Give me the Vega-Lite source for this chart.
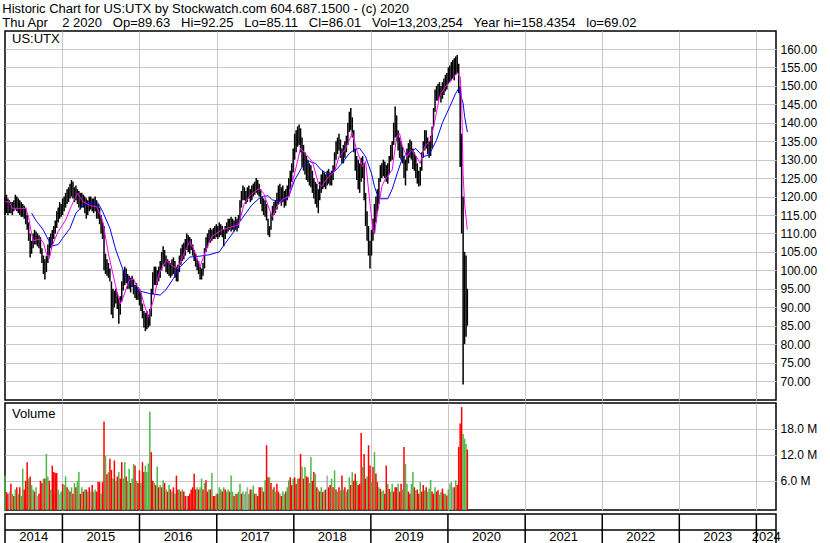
{
"$schema":"https://vega.github.io/schema/vega-lite/v6.json",
"padding":{"left":2,"top":3,"right":4,"bottom":0},
"background":"white",
"title":{"text":["Historic Chart for US:UTX by Stockwatch.com 604.687.1500 - (c) 2020","Thu Apr\u00a0\u00a0\u00a0\u00a02 2020\u00a0\u00a0\u00a0Op=89.63\u00a0\u00a0\u00a0Hi=92.25\u00a0\u00a0\u00a0Lo=85.11\u00a0\u00a0\u00a0Cl=86.01\u00a0\u00a0\u00a0Vol=13,203,254\u00a0\u00a0\u00a0Year hi=158.4354\u00a0\u00a0\u00a0lo=69.02"],"anchor":"start","font":"Liberation Sans","fontSize":13,"fontWeight":"normal","color":"#000000","lineHeight":14,"offset":0},
"config":{"view":{"stroke":"#000000","strokeWidth":1.5},"font":"Liberation Sans","axis":{"labelFont":"Liberation Sans","labelFontSize":12,"labelColor":"#000000","gridColor":"#c8c8c8","gridWidth":1,"domain":false,"ticks":false,"tickSize":0,"title":null,"labelOverlap":false,"labelBound":false}},
"datasets":{
"w":[
{"d":"2014-04-04","h":120,"l":115,"v":7.2,"c":"g"},
{"d":"2014-04-11","h":120.5,"l":115.5,"v":3.4,"c":"r"},
{"d":"2014-04-18","h":119.5,"l":115,"v":3.0,"c":"r"},
{"d":"2014-04-25","h":119,"l":115.5,"v":3.5,"c":"n"},
{"d":"2014-05-02","h":118.5,"l":115.5,"v":5.3,"c":"r"},
{"d":"2014-05-09","h":118.5,"l":115,"v":3.0,"c":"g"},
{"d":"2014-05-16","h":119,"l":116,"v":2.5,"c":"r"},
{"d":"2014-05-23","h":120.5,"l":116.5,"v":4.0,"c":"g"},
{"d":"2014-05-30","h":120,"l":116,"v":4.5,"c":"r"},
{"d":"2014-06-06","h":119.5,"l":115.5,"v":3.0,"c":"g"},
{"d":"2014-06-13","h":119,"l":115,"v":4.5,"c":"r"},
{"d":"2014-06-20","h":118.5,"l":114.5,"v":2.5,"c":"g"},
{"d":"2014-06-27","h":118,"l":114.5,"v":8.8,"c":"g"},
{"d":"2014-07-04","h":117.5,"l":114,"v":4.0,"c":"r"},
{"d":"2014-07-11","h":117,"l":112.5,"v":6.0,"c":"r"},
{"d":"2014-07-18","h":115,"l":111,"v":10.3,"c":"r"},
{"d":"2014-07-25","h":113,"l":108,"v":6.5,"c":"g"},
{"d":"2014-08-01","h":110,"l":103.5,"v":7.0,"c":"r"},
{"d":"2014-08-08","h":108,"l":104.5,"v":5.0,"c":"g"},
{"d":"2014-08-15","h":110,"l":106,"v":4.0,"c":"g"},
{"d":"2014-08-22","h":111,"l":107,"v":3.5,"c":"r"},
{"d":"2014-08-29","h":110.5,"l":107,"v":4.5,"c":"g"},
{"d":"2014-09-05","h":110,"l":106.5,"v":2.5,"c":"n"},
{"d":"2014-09-12","h":109.5,"l":106,"v":3.0,"c":"r"},
{"d":"2014-09-19","h":109,"l":104.5,"v":6.0,"c":"r"},
{"d":"2014-09-26","h":106,"l":102,"v":5.5,"c":"r"},
{"d":"2014-10-03","h":104,"l":99,"v":6.5,"c":"g"},
{"d":"2014-10-10","h":103,"l":97.5,"v":6.5,"c":"r"},
{"d":"2014-10-17","h":104,"l":99.5,"v":12.2,"c":"g"},
{"d":"2014-10-24","h":107,"l":102,"v":7.0,"c":"g"},
{"d":"2014-10-31","h":109,"l":104,"v":6.0,"c":"r"},
{"d":"2014-11-07","h":110,"l":106,"v":4.0,"c":"g"},
{"d":"2014-11-14","h":111,"l":107,"v":9.5,"c":"r"},
{"d":"2014-11-21","h":112,"l":108.5,"v":8.0,"c":"r"},
{"d":"2014-11-28","h":113.5,"l":110,"v":7.8,"c":"r"},
{"d":"2014-12-05","h":116,"l":111.5,"v":7.8,"c":"r"},
{"d":"2014-12-12","h":117,"l":113,"v":4.0,"c":"g"},
{"d":"2014-12-19","h":118.5,"l":114,"v":3.0,"c":"n"},
{"d":"2014-12-26","h":118,"l":114.5,"v":3.5,"c":"g"},
{"d":"2015-01-02","h":119.5,"l":115,"v":5.3,"c":"r"},
{"d":"2015-01-09","h":120,"l":116,"v":5.0,"c":"g"},
{"d":"2015-01-16","h":121,"l":117,"v":7.0,"c":"g"},
{"d":"2015-01-23","h":122,"l":118,"v":4.5,"c":"r"},
{"d":"2015-01-30","h":122.5,"l":118.5,"v":4.0,"c":"g"},
{"d":"2015-02-06","h":123.5,"l":119.5,"v":3.5,"c":"r"},
{"d":"2015-02-13","h":124.5,"l":120,"v":4.5,"c":"g"},
{"d":"2015-02-20","h":124,"l":119.5,"v":3.0,"c":"r"},
{"d":"2015-02-27","h":122.5,"l":118.5,"v":5.5,"c":"g"},
{"d":"2015-03-06","h":123,"l":119,"v":4.5,"c":"r"},
{"d":"2015-03-13","h":122,"l":118,"v":6.0,"c":"g"},
{"d":"2015-03-20","h":121.5,"l":117,"v":8.0,"c":"g"},
{"d":"2015-03-27","h":121,"l":116.5,"v":3.0,"c":"r"},
{"d":"2015-04-03","h":121,"l":117,"v":4.5,"c":"g"},
{"d":"2015-04-10","h":120.5,"l":117,"v":3.5,"c":"r"},
{"d":"2015-04-17","h":120,"l":115.5,"v":4.0,"c":"g"},
{"d":"2015-04-24","h":119.5,"l":114,"v":4.0,"c":"r"},
{"d":"2015-05-01","h":119,"l":115,"v":3.5,"c":"g"},
{"d":"2015-05-08","h":120,"l":116,"v":4.5,"c":"r"},
{"d":"2015-05-15","h":120,"l":116.5,"v":3.5,"c":"n"},
{"d":"2015-05-22","h":119.5,"l":116,"v":5.0,"c":"r"},
{"d":"2015-05-29","h":119.5,"l":115.5,"v":3.5,"c":"g"},
{"d":"2015-06-05","h":120,"l":116,"v":4.0,"c":"g"},
{"d":"2015-06-12","h":119,"l":114,"v":3.5,"c":"r"},
{"d":"2015-06-19","h":118,"l":114,"v":5.8,"c":"r"},
{"d":"2015-06-26","h":117,"l":112.5,"v":5.7,"c":"r"},
{"d":"2015-07-03","h":115,"l":110,"v":3.0,"c":"g"},
{"d":"2015-07-10","h":113,"l":108.5,"v":5.7,"c":"r"},
{"d":"2015-07-17","h":112,"l":100,"v":19.7,"c":"r"},
{"d":"2015-07-24","h":104.5,"l":99,"v":11.8,"c":"g"},
{"d":"2015-07-31","h":103,"l":98.5,"v":7.5,"c":"r"},
{"d":"2015-08-07","h":102,"l":98,"v":8.0,"c":"g"},
{"d":"2015-08-14","h":100.5,"l":97,"v":11.1,"c":"r"},
{"d":"2015-08-21","h":97,"l":88,"v":8.5,"c":"r"},
{"d":"2015-08-28","h":95,"l":87,"v":6.5,"c":"g"},
{"d":"2015-09-04","h":94.5,"l":90,"v":10.7,"c":"r"},
{"d":"2015-09-11","h":95,"l":91,"v":6.0,"c":"g"},
{"d":"2015-09-18","h":94,"l":89.5,"v":7.0,"c":"r"},
{"d":"2015-09-25","h":92.5,"l":85.5,"v":8.0,"c":"g"},
{"d":"2015-10-02","h":93,"l":88,"v":6.5,"c":"r"},
{"d":"2015-10-09","h":97,"l":91.5,"v":10.3,"c":"r"},
{"d":"2015-10-16","h":100,"l":94.5,"v":6.5,"c":"g"},
{"d":"2015-10-23","h":101,"l":96,"v":10.3,"c":"g"},
{"d":"2015-10-30","h":100.5,"l":96.5,"v":7.0,"c":"r"},
{"d":"2015-11-06","h":99,"l":95,"v":6.0,"c":"g"},
{"d":"2015-11-13","h":98.5,"l":95,"v":8.8,"c":"g"},
{"d":"2015-11-20","h":98,"l":94,"v":5.5,"c":"r"},
{"d":"2015-11-27","h":98.5,"l":95.5,"v":6.5,"c":"g"},
{"d":"2015-12-04","h":97.5,"l":93.5,"v":9.9,"c":"g"},
{"d":"2015-12-11","h":96,"l":92.5,"v":9.5,"c":"r"},
{"d":"2015-12-18","h":96.5,"l":92,"v":6.0,"c":"g"},
{"d":"2015-12-25","h":95.5,"l":92,"v":5.5,"c":"r"},
{"d":"2016-01-01","h":95,"l":90.5,"v":8.4,"c":"r"},
{"d":"2016-01-08","h":94,"l":89,"v":5.5,"c":"g"},
{"d":"2016-01-15","h":91,"l":87,"v":10.3,"c":"r"},
{"d":"2016-01-22","h":89,"l":84.5,"v":8.0,"c":"r"},
{"d":"2016-01-29","h":88.5,"l":83.5,"v":9.5,"c":"g"},
{"d":"2016-02-05","h":89,"l":84,"v":8.0,"c":"g"},
{"d":"2016-02-12","h":88,"l":84.5,"v":10.0,"c":"g"},
{"d":"2016-02-19","h":89.5,"l":85,"v":22.0,"c":"g"},
{"d":"2016-02-26","h":95,"l":87.5,"v":12.6,"c":"r"},
{"d":"2016-03-04","h":99.5,"l":93.5,"v":6.0,"c":"r"},
{"d":"2016-03-11","h":101,"l":96,"v":5.5,"c":"g"},
{"d":"2016-03-18","h":101,"l":96,"v":5.0,"c":"r"},
{"d":"2016-03-25","h":100,"l":96,"v":9.3,"c":"g"},
{"d":"2016-04-01","h":101,"l":97,"v":4.5,"c":"r"},
{"d":"2016-04-08","h":102.5,"l":98,"v":5.0,"c":"g"},
{"d":"2016-04-15","h":105,"l":100,"v":4.5,"c":"r"},
{"d":"2016-04-22","h":106.5,"l":101.5,"v":6.1,"c":"g"},
{"d":"2016-04-29","h":105.5,"l":101,"v":5.5,"c":"r"},
{"d":"2016-05-06","h":104,"l":99.5,"v":4.0,"c":"g"},
{"d":"2016-05-13","h":103,"l":99,"v":3.5,"c":"r"},
{"d":"2016-05-20","h":102.5,"l":98.5,"v":5.0,"c":"g"},
{"d":"2016-05-27","h":102,"l":98,"v":4.0,"c":"r"},
{"d":"2016-06-03","h":103,"l":98.5,"v":3.5,"c":"g"},
{"d":"2016-06-10","h":103.5,"l":99,"v":4.5,"c":"r"},
{"d":"2016-06-17","h":102.5,"l":98,"v":3.0,"c":"g"},
{"d":"2016-06-24","h":101,"l":97,"v":7.2,"c":"r"},
{"d":"2016-07-01","h":101.5,"l":97,"v":4.0,"c":"r"},
{"d":"2016-07-08","h":104,"l":99.5,"v":4.0,"c":"g"},
{"d":"2016-07-15","h":106,"l":101.5,"v":3.5,"c":"r"},
{"d":"2016-07-22","h":107,"l":102.5,"v":4.0,"c":"g"},
{"d":"2016-07-29","h":107.5,"l":103,"v":3.5,"c":"r"},
{"d":"2016-08-05","h":108.5,"l":104,"v":2.5,"c":"r"},
{"d":"2016-08-12","h":110,"l":105.5,"v":2.5,"c":"n"},
{"d":"2016-08-19","h":109.5,"l":105,"v":2.5,"c":"r"},
{"d":"2016-08-26","h":109,"l":104.5,"v":3.0,"c":"r"},
{"d":"2016-09-02","h":108.5,"l":105.5,"v":4.0,"c":"r"},
{"d":"2016-09-09","h":107,"l":104,"v":4.5,"c":"r"},
{"d":"2016-09-16","h":105.5,"l":102.5,"v":7.6,"c":"r"},
{"d":"2016-09-23","h":104.5,"l":101,"v":4.0,"c":"r"},
{"d":"2016-09-30","h":103,"l":100,"v":4.5,"c":"g"},
{"d":"2016-10-07","h":102.5,"l":99,"v":4.0,"c":"r"},
{"d":"2016-10-14","h":101,"l":97.5,"v":4.5,"c":"g"},
{"d":"2016-10-21","h":100.5,"l":97.5,"v":6.5,"c":"g"},
{"d":"2016-10-28","h":102,"l":98.5,"v":4.0,"c":"r"},
{"d":"2016-11-04","h":106,"l":100.5,"v":5.5,"c":"g"},
{"d":"2016-11-11","h":109,"l":105,"v":6.1,"c":"r"},
{"d":"2016-11-18","h":110,"l":106,"v":3.5,"c":"r"},
{"d":"2016-11-25","h":111,"l":107.5,"v":4.0,"c":"g"},
{"d":"2016-12-02","h":111.5,"l":107.5,"v":4.0,"c":"r"},
{"d":"2016-12-09","h":111,"l":108,"v":7.8,"c":"g"},
{"d":"2016-12-16","h":111.5,"l":108.5,"v":2.5,"c":"r"},
{"d":"2016-12-23","h":112,"l":108.5,"v":2.5,"c":"r"},
{"d":"2016-12-30","h":112.5,"l":109,"v":3.0,"c":"g"},
{"d":"2017-01-06","h":112,"l":108.5,"v":3.0,"c":"r"},
{"d":"2017-01-13","h":113,"l":109,"v":4.5,"c":"g"},
{"d":"2017-01-20","h":112.5,"l":109.5,"v":4.0,"c":"g"},
{"d":"2017-01-27","h":112,"l":109,"v":3.5,"c":"r"},
{"d":"2017-02-03","h":111,"l":106.5,"v":4.5,"c":"g"},
{"d":"2017-02-10","h":112,"l":108.5,"v":4.0,"c":"r"},
{"d":"2017-02-17","h":113,"l":110,"v":3.5,"c":"g"},
{"d":"2017-02-24","h":114,"l":110.5,"v":4.0,"c":"g"},
{"d":"2017-03-03","h":114,"l":111,"v":3.5,"c":"r"},
{"d":"2017-03-10","h":114.5,"l":110.5,"v":7.2,"c":"g"},
{"d":"2017-03-17","h":114,"l":111,"v":3.5,"c":"g"},
{"d":"2017-03-24","h":113.5,"l":110.5,"v":2.5,"c":"r"},
{"d":"2017-03-31","h":114.5,"l":111,"v":3.0,"c":"g"},
{"d":"2017-04-07","h":114,"l":110.5,"v":3.0,"c":"r"},
{"d":"2017-04-14","h":115,"l":111.5,"v":3.5,"c":"g"},
{"d":"2017-04-21","h":119,"l":113.5,"v":5.3,"c":"g"},
{"d":"2017-04-28","h":121.5,"l":117,"v":3.0,"c":"r"},
{"d":"2017-05-05","h":123,"l":119,"v":3.5,"c":"g"},
{"d":"2017-05-12","h":122.5,"l":119,"v":3.0,"c":"n"},
{"d":"2017-05-19","h":121.5,"l":118,"v":3.5,"c":"g"},
{"d":"2017-05-26","h":122.5,"l":118.5,"v":4.5,"c":"n"},
{"d":"2017-06-02","h":123,"l":119.5,"v":3.0,"c":"g"},
{"d":"2017-06-09","h":122,"l":118.5,"v":4.0,"c":"r"},
{"d":"2017-06-16","h":123,"l":119,"v":4.0,"c":"g"},
{"d":"2017-06-23","h":123.5,"l":120,"v":4.9,"c":"g"},
{"d":"2017-06-30","h":124,"l":120.5,"v":3.0,"c":"r"},
{"d":"2017-07-07","h":125,"l":121,"v":3.0,"c":"g"},
{"d":"2017-07-14","h":124.5,"l":120.5,"v":2.5,"c":"r"},
{"d":"2017-07-21","h":123.5,"l":120,"v":4.5,"c":"r"},
{"d":"2017-07-28","h":122,"l":118,"v":4.5,"c":"r"},
{"d":"2017-08-04","h":120,"l":116,"v":4.5,"c":"g"},
{"d":"2017-08-11","h":119.5,"l":115,"v":3.5,"c":"r"},
{"d":"2017-08-18","h":119,"l":114.5,"v":6.1,"c":"g"},
{"d":"2017-08-25","h":118,"l":113.5,"v":14.2,"c":"r"},
{"d":"2017-09-01","h":114,"l":109.5,"v":6.8,"c":"r"},
{"d":"2017-09-08","h":112,"l":109,"v":6.8,"c":"g"},
{"d":"2017-09-15","h":115.5,"l":111,"v":5.5,"c":"r"},
{"d":"2017-09-22","h":117.5,"l":113.5,"v":4.0,"c":"g"},
{"d":"2017-09-29","h":118.5,"l":115,"v":4.5,"c":"r"},
{"d":"2017-10-06","h":119,"l":115.5,"v":3.5,"c":"g"},
{"d":"2017-10-13","h":121,"l":116.5,"v":5.3,"c":"r"},
{"d":"2017-10-20","h":123,"l":118,"v":3.5,"c":"r"},
{"d":"2017-10-27","h":123.5,"l":118.5,"v":3.0,"c":"g"},
{"d":"2017-11-03","h":122.5,"l":117.5,"v":2.5,"c":"r"},
{"d":"2017-11-10","h":123,"l":118.5,"v":3.5,"c":"g"},
{"d":"2017-11-17","h":121.5,"l":117,"v":3.0,"c":"g"},
{"d":"2017-11-24","h":122,"l":117.5,"v":3.5,"c":"r"},
{"d":"2017-12-01","h":123,"l":119,"v":4.5,"c":"g"},
{"d":"2017-12-08","h":125,"l":120,"v":6.1,"c":"g"},
{"d":"2017-12-15","h":127,"l":122,"v":6.8,"c":"r"},
{"d":"2017-12-22","h":129,"l":124,"v":5.0,"c":"r"},
{"d":"2017-12-29","h":133,"l":126.5,"v":6.5,"c":"g"},
{"d":"2018-01-05","h":137,"l":130,"v":6.8,"c":"r"},
{"d":"2018-01-12","h":138,"l":132,"v":5.3,"c":"r"},
{"d":"2018-01-19","h":139,"l":133.5,"v":6.5,"c":"g"},
{"d":"2018-01-26","h":139.5,"l":134,"v":6.5,"c":"r"},
{"d":"2018-02-02","h":138.5,"l":132,"v":12.2,"c":"r"},
{"d":"2018-02-09","h":136,"l":128,"v":9.3,"c":"g"},
{"d":"2018-02-16","h":134,"l":127,"v":6.5,"c":"r"},
{"d":"2018-02-23","h":132,"l":126,"v":9.2,"c":"g"},
{"d":"2018-03-02","h":131,"l":124.5,"v":7.0,"c":"r"},
{"d":"2018-03-09","h":130,"l":124,"v":6.8,"c":"r"},
{"d":"2018-03-16","h":129,"l":123,"v":5.5,"c":"g"},
{"d":"2018-03-23","h":128.5,"l":122.5,"v":11.5,"c":"g"},
{"d":"2018-03-30","h":127,"l":121,"v":6.0,"c":"r"},
{"d":"2018-04-06","h":125,"l":119.5,"v":8.0,"c":"r"},
{"d":"2018-04-13","h":124,"l":118,"v":7.6,"c":"g"},
{"d":"2018-04-20","h":123.5,"l":117,"v":4.5,"c":"r"},
{"d":"2018-04-27","h":122,"l":115.5,"v":4.0,"c":"g"},
{"d":"2018-05-04","h":124,"l":119,"v":3.5,"c":"r"},
{"d":"2018-05-11","h":126,"l":121,"v":4.5,"c":"g"},
{"d":"2018-05-18","h":127,"l":122,"v":3.4,"c":"r"},
{"d":"2018-05-25","h":126.5,"l":122.5,"v":3.8,"c":"g"},
{"d":"2018-06-01","h":126,"l":122,"v":4.0,"c":"r"},
{"d":"2018-06-08","h":127,"l":123,"v":7.2,"c":"n"},
{"d":"2018-06-15","h":127.5,"l":123.5,"v":4.5,"c":"r"},
{"d":"2018-06-22","h":126.5,"l":123,"v":5.0,"c":"r"},
{"d":"2018-06-29","h":127,"l":123,"v":6.5,"c":"g"},
{"d":"2018-07-06","h":128.5,"l":124.5,"v":4.5,"c":"r"},
{"d":"2018-07-13","h":132,"l":127,"v":8.4,"c":"g"},
{"d":"2018-07-20","h":135,"l":130,"v":4.0,"c":"r"},
{"d":"2018-07-27","h":136,"l":131.5,"v":3.5,"c":"g"},
{"d":"2018-08-03","h":137,"l":132.5,"v":4.5,"c":"r"},
{"d":"2018-08-10","h":135.5,"l":130.5,"v":3.8,"c":"g"},
{"d":"2018-08-17","h":133,"l":129,"v":7.2,"c":"r"},
{"d":"2018-08-24","h":134,"l":129,"v":4.0,"c":"g"},
{"d":"2018-08-31","h":135,"l":130.5,"v":4.5,"c":"r"},
{"d":"2018-09-07","h":136.5,"l":132,"v":3.5,"c":"g"},
{"d":"2018-09-14","h":140,"l":134,"v":4.0,"c":"r"},
{"d":"2018-09-21","h":143,"l":137.5,"v":6.8,"c":"g"},
{"d":"2018-09-28","h":144,"l":138,"v":5.0,"c":"r"},
{"d":"2018-10-05","h":141.5,"l":136,"v":8.0,"c":"g"},
{"d":"2018-10-12","h":138,"l":132,"v":6.0,"c":"r"},
{"d":"2018-10-19","h":133,"l":127,"v":7.6,"c":"r"},
{"d":"2018-10-26","h":131,"l":124.5,"v":6.0,"c":"g"},
{"d":"2018-11-02","h":130,"l":122,"v":5.0,"c":"r"},
{"d":"2018-11-09","h":129,"l":121,"v":5.3,"c":"r"},
{"d":"2018-11-16","h":130.5,"l":124,"v":17.0,"c":"r"},
{"d":"2018-11-23","h":131,"l":125,"v":9.2,"c":"g"},
{"d":"2018-11-30","h":129,"l":119,"v":12.2,"c":"r"},
{"d":"2018-12-07","h":121,"l":112,"v":6.5,"c":"r"},
{"d":"2018-12-14","h":116,"l":108,"v":7.0,"c":"g"},
{"d":"2018-12-21","h":112,"l":104,"v":14.2,"c":"r"},
{"d":"2018-12-28","h":108,"l":100.5,"v":9.5,"c":"r"},
{"d":"2019-01-04","h":111,"l":104,"v":5.7,"c":"g"},
{"d":"2019-01-11","h":114,"l":108,"v":9.2,"c":"r"},
{"d":"2019-01-18","h":118,"l":110,"v":12.6,"c":"g"},
{"d":"2019-01-25","h":120,"l":113,"v":7.7,"c":"r"},
{"d":"2019-02-01","h":122,"l":116,"v":5.7,"c":"r"},
{"d":"2019-02-08","h":125,"l":118,"v":4.5,"c":"g"},
{"d":"2019-02-15","h":128.5,"l":124,"v":4.1,"c":"r"},
{"d":"2019-02-22","h":129,"l":125,"v":3.5,"c":"g"},
{"d":"2019-03-01","h":130,"l":125.5,"v":3.8,"c":"g"},
{"d":"2019-03-08","h":129.5,"l":125,"v":3.0,"c":"r"},
{"d":"2019-03-15","h":128.5,"l":124,"v":9.5,"c":"r"},
{"d":"2019-03-22","h":129,"l":123.5,"v":5.3,"c":"g"},
{"d":"2019-03-29","h":131,"l":126,"v":4.1,"c":"r"},
{"d":"2019-04-05","h":134,"l":129.5,"v":3.5,"c":"g"},
{"d":"2019-04-12","h":135,"l":130,"v":5.3,"c":"g"},
{"d":"2019-04-19","h":140,"l":134,"v":3.5,"c":"r"},
{"d":"2019-04-26","h":144.4,"l":136,"v":4.5,"c":"r"},
{"d":"2019-05-03","h":142,"l":135,"v":4.5,"c":"r"},
{"d":"2019-05-10","h":138,"l":132.5,"v":5.3,"c":"g"},
{"d":"2019-05-17","h":136,"l":130.5,"v":3.5,"c":"r"},
{"d":"2019-05-24","h":135,"l":130,"v":5.3,"c":"r"},
{"d":"2019-05-31","h":133.5,"l":129,"v":4.0,"c":"g"},
{"d":"2019-06-07","h":131,"l":125,"v":13.8,"c":"r"},
{"d":"2019-06-14","h":130,"l":123,"v":9.9,"c":"g"},
{"d":"2019-06-21","h":133,"l":127,"v":5.3,"c":"g"},
{"d":"2019-06-28","h":134.5,"l":129,"v":3.5,"c":"r"},
{"d":"2019-07-05","h":135.5,"l":130.5,"v":3.0,"c":"r"},
{"d":"2019-07-12","h":135,"l":130,"v":5.3,"c":"g"},
{"d":"2019-07-19","h":133,"l":127.5,"v":8.0,"c":"g"},
{"d":"2019-07-26","h":132,"l":127,"v":4.5,"c":"r"},
{"d":"2019-08-02","h":131,"l":125,"v":3.8,"c":"g"},
{"d":"2019-08-09","h":129,"l":123.5,"v":4.0,"c":"r"},
{"d":"2019-08-16","h":127,"l":122.7,"v":3.0,"c":"r"},
{"d":"2019-08-23","h":128,"l":123,"v":5.7,"c":"g"},
{"d":"2019-08-30","h":132,"l":127,"v":3.5,"c":"r"},
{"d":"2019-09-06","h":135,"l":130.5,"v":5.0,"c":"r"},
{"d":"2019-09-13","h":138,"l":132.5,"v":3.8,"c":"g"},
{"d":"2019-09-20","h":138,"l":133,"v":4.5,"c":"r"},
{"d":"2019-09-27","h":136,"l":131.5,"v":3.5,"c":"g"},
{"d":"2019-10-04","h":135,"l":130.5,"v":4.2,"c":"g"},
{"d":"2019-10-11","h":136.5,"l":131,"v":6.2,"c":"g"},
{"d":"2019-10-18","h":139,"l":133,"v":3.5,"c":"r"},
{"d":"2019-10-25","h":144,"l":139,"v":3.0,"c":"r"},
{"d":"2019-11-01","h":149,"l":143,"v":4.5,"c":"g"},
{"d":"2019-11-08","h":150,"l":146,"v":3.5,"c":"r"},
{"d":"2019-11-15","h":150.5,"l":146,"v":3.8,"c":"r"},
{"d":"2019-11-22","h":151,"l":147,"v":2.8,"c":"g"},
{"d":"2019-11-29","h":150,"l":145.5,"v":3.4,"c":"g"},
{"d":"2019-12-06","h":151,"l":146.5,"v":4.2,"c":"r"},
{"d":"2019-12-13","h":152,"l":147.5,"v":3.0,"c":"r"},
{"d":"2019-12-20","h":153,"l":148.5,"v":3.0,"c":"g"},
{"d":"2019-12-27","h":153.5,"l":149,"v":2.6,"c":"r"},
{"d":"2020-01-03","h":155,"l":150.5,"v":4.0,"c":"g"},
{"d":"2020-01-10","h":155.5,"l":151,"v":5.3,"c":"n"},
{"d":"2020-01-17","h":156.5,"l":151.5,"v":5.7,"c":"g"},
{"d":"2020-01-24","h":157,"l":152,"v":4.5,"c":"n"},
{"d":"2020-01-31","h":157.5,"l":151.5,"v":4.5,"c":"r"},
{"d":"2020-02-07","h":158,"l":153,"v":6.1,"c":"g"},
{"d":"2020-02-14","h":158.4,"l":153.5,"v":5.0,"c":"r"},
{"d":"2020-02-21","h":156,"l":148,"v":13.8,"c":"r"},
{"d":"2020-02-28","h":150,"l":128,"v":19.2,"c":"r"},
{"d":"2020-03-06","h":137,"l":110,"v":23.0,"c":"r"},
{"d":"2020-03-13","h":120,"l":69.02,"v":16.8,"c":"g"},
{"d":"2020-03-20","h":105,"l":80,"v":15.7,"c":"g"},
{"d":"2020-03-27","h":104,"l":82,"v":14.5,"c":"g"},
{"d":"2020-04-02","h":95,"l":85,"v":13.2,"c":"r"}
],
"m":[
{"d":"2014-04-04","v":118.6},{"d":"2014-04-25","v":118.6},{"d":"2014-05-09","v":116.8},{"d":"2014-07-11","v":116.8},{"d":"2014-07-25","v":114.5},{"d":"2014-08-01","v":112},{"d":"2014-08-15","v":108},{"d":"2014-08-29","v":108.2},{"d":"2014-09-19","v":108.5},{"d":"2014-10-03","v":107.5},{"d":"2014-10-17","v":104.5},{"d":"2014-10-31","v":103.2},{"d":"2014-11-14","v":106.8},{"d":"2014-12-12","v":110.5},{"d":"2015-01-16","v":113.6},{"d":"2015-02-13","v":117.5},{"d":"2015-03-13","v":120.9},{"d":"2015-04-10","v":118.5},{"d":"2015-05-15","v":117.5},{"d":"2015-06-12","v":117.3},{"d":"2015-07-10","v":113.6},{"d":"2015-08-07","v":104.5},{"d":"2015-09-11","v":95.5},{"d":"2015-10-02","v":90.9},{"d":"2015-10-16","v":92.7},{"d":"2015-11-13","v":97.3},{"d":"2015-12-04","v":97.7},{"d":"2015-12-18","v":95.9},{"d":"2016-01-08","v":94},{"d":"2016-01-22","v":91},{"d":"2016-02-12","v":87.3},{"d":"2016-03-11","v":92.7},{"d":"2016-04-01","v":99},{"d":"2016-05-06","v":102.7},{"d":"2016-06-10","v":101},{"d":"2016-07-01","v":100.5},{"d":"2016-07-29","v":104.5},{"d":"2016-08-26","v":107.8},{"d":"2016-09-16","v":105.5},{"d":"2016-10-14","v":101},{"d":"2016-11-11","v":105.5},{"d":"2016-12-09","v":109.2},{"d":"2017-01-27","v":111},{"d":"2017-04-14","v":112.3},{"d":"2017-05-12","v":118.2},{"d":"2017-06-09","v":120.4},{"d":"2017-07-21","v":122.2},{"d":"2017-08-11","v":120.9},{"d":"2017-09-08","v":116.4},{"d":"2017-09-22","v":114.5},{"d":"2017-10-13","v":117.3},{"d":"2017-11-10","v":119.3},{"d":"2017-12-08","v":120},{"d":"2018-01-05","v":126.3},{"d":"2018-02-02","v":133.1},{"d":"2018-02-23","v":131.7},{"d":"2018-03-30","v":129.5},{"d":"2018-04-27","v":123.6},{"d":"2018-05-11","v":122.7},{"d":"2018-06-15","v":125.4},{"d":"2018-07-13","v":126.8},{"d":"2018-08-03","v":130.8},{"d":"2018-08-31","v":132.6},{"d":"2018-10-05","v":137.2},{"d":"2018-10-26","v":132.6},{"d":"2018-11-23","v":128.1},{"d":"2018-12-07","v":129.5},{"d":"2018-12-28","v":118},{"d":"2019-01-11","v":111},{"d":"2019-01-18","v":110},{"d":"2019-02-01","v":115.5},{"d":"2019-02-22","v":122.7},{"d":"2019-03-08","v":124.5},{"d":"2019-04-12","v":127.2},{"d":"2019-05-03","v":136.2},{"d":"2019-05-17","v":137.1},{"d":"2019-05-31","v":133.5},{"d":"2019-06-21","v":130.8},{"d":"2019-07-12","v":132.6},{"d":"2019-07-26","v":131.7},{"d":"2019-08-23","v":129},{"d":"2019-09-13","v":133.5},{"d":"2019-10-11","v":135.3},{"d":"2019-11-01","v":140.8},{"d":"2019-11-22","v":147.1},{"d":"2019-12-20","v":149.8},{"d":"2020-01-17","v":151.6},{"d":"2020-02-14","v":153.6},{"d":"2020-02-28","v":152.5},{"d":"2020-03-06","v":146},{"d":"2020-03-13","v":126},{"d":"2020-03-20","v":118},{"d":"2020-04-02","v":111}
],
"b":[
{"d":"2014-08-08","v":115.5},{"d":"2014-08-29","v":113.5},{"d":"2014-10-03","v":110.9},{"d":"2014-10-24","v":108.5},{"d":"2014-11-14","v":106.6},{"d":"2014-12-12","v":107},{"d":"2015-01-02","v":108.7},{"d":"2015-02-06","v":111.4},{"d":"2015-03-06","v":115.5},{"d":"2015-04-10","v":117.7},{"d":"2015-05-22","v":118.3},{"d":"2015-06-19","v":118.2},{"d":"2015-07-10","v":116},{"d":"2015-08-14","v":111.4},{"d":"2015-09-11","v":105.5},{"d":"2015-10-16","v":100},{"d":"2015-11-20","v":96},{"d":"2015-12-18","v":94.7},{"d":"2016-01-15","v":94.2},{"d":"2016-02-19","v":93.7},{"d":"2016-04-08","v":93.3},{"d":"2016-05-06","v":94.8},{"d":"2016-06-10","v":97.8},{"d":"2016-07-08","v":100.7},{"d":"2016-08-26","v":103.6},{"d":"2016-10-07","v":103.8},{"d":"2016-11-25","v":104.2},{"d":"2017-01-13","v":105},{"d":"2017-02-10","v":107.3},{"d":"2017-03-17","v":110},{"d":"2017-04-14","v":112.7},{"d":"2017-05-19","v":115.5},{"d":"2017-06-16","v":117.7},{"d":"2017-07-21","v":119.5},{"d":"2017-08-11","v":120.1},{"d":"2017-09-01","v":120.2},{"d":"2017-09-22","v":119.1},{"d":"2017-10-20","v":118.7},{"d":"2017-11-17","v":119},{"d":"2017-12-08","v":120},{"d":"2018-01-05","v":124.5},{"d":"2018-02-09","v":128},{"d":"2018-03-16","v":129.5},{"d":"2018-04-13","v":129},{"d":"2018-05-11","v":127.2},{"d":"2018-06-15","v":125.9},{"d":"2018-07-13","v":126.8},{"d":"2018-08-17","v":129},{"d":"2018-09-21","v":131.7},{"d":"2018-10-12","v":132.6},{"d":"2018-11-09","v":133.1},{"d":"2018-12-07","v":130.8},{"d":"2019-01-04","v":126.3},{"d":"2019-01-18","v":122.7},{"d":"2019-02-01","v":120.5},{"d":"2019-02-15","v":119.4},{"d":"2019-03-22","v":119.4},{"d":"2019-04-12","v":122},{"d":"2019-05-10","v":127},{"d":"2019-05-31","v":130.5},{"d":"2019-06-28","v":132},{"d":"2019-08-02","v":133},{"d":"2019-09-06","v":130.8},{"d":"2019-10-04","v":131.3},{"d":"2019-11-08","v":135.3},{"d":"2019-12-06","v":140},{"d":"2020-01-10","v":144.4},{"d":"2020-02-07","v":148},{"d":"2020-02-21","v":149.3},{"d":"2020-03-13","v":145.3},{"d":"2020-03-20","v":141.7},{"d":"2020-04-02","v":137.5}
],
"yr":[{"d":"2015-01-01"},{"d":"2016-01-01"},{"d":"2017-01-01"},{"d":"2018-01-01"},{"d":"2019-01-01"},{"d":"2020-01-01"},{"d":"2021-01-01"},{"d":"2022-01-01"},{"d":"2023-01-01"},{"d":"2024-01-01"}],
"lb":[{"d":"2014-08-18","t":"2014"},{"d":"2015-07-02","t":"2015"},{"d":"2016-07-02","t":"2016"},{"d":"2017-07-02","t":"2017"},{"d":"2018-07-02","t":"2018"},{"d":"2019-07-02","t":"2019"},{"d":"2020-07-02","t":"2020"},{"d":"2021-07-02","t":"2021"},{"d":"2022-07-02","t":"2022"},{"d":"2023-07-02","t":"2023"},{"d":"2024-02-17","t":"2024"}]
},
"spacing":1,
"vconcat":[
{
"width":771,"height":369,
"layer":[
{"data":{"name":"w"},"mark":{"type":"rule","color":"#000000","strokeWidth":1.5},
"encoding":{
"x":{"field":"d","type":"temporal","scale":{"type":"utc","domain":[{"year":2014,"month":4,"date":4,"utc":true},{"year":2024,"month":4,"date":3,"utc":true}]},"axis":{"orient":"bottom","labels":false,"grid":true,"values":[{"year":2015,"month":1,"date":1,"utc":true},{"year":2016,"month":1,"date":1,"utc":true},{"year":2017,"month":1,"date":1,"utc":true},{"year":2018,"month":1,"date":1,"utc":true},{"year":2019,"month":1,"date":1,"utc":true},{"year":2020,"month":1,"date":1,"utc":true},{"year":2021,"month":1,"date":1,"utc":true},{"year":2022,"month":1,"date":1,"utc":true},{"year":2023,"month":1,"date":1,"utc":true},{"year":2024,"month":1,"date":1,"utc":true}]}},
"y":{"field":"l","type":"quantitative","scale":{"domain":[64.85,164.88],"nice":false,"zero":false},"axis":{"orient":"right","grid":true,"values":[70,75,80,85,90,95,100,105,110,115,120,125,130,135,140,145,150,155,160],"format":".2f","labelPadding":4,"labelBaseline":"middle","labelOverlap":false,"labelSeparation":0}},
"y2":{"field":"h"}}},
{"data":{"name":"b"},"mark":{"type":"line","color":"#0000ff","strokeWidth":1},"encoding":{"x":{"field":"d","type":"temporal"},"y":{"field":"v","type":"quantitative","axis":{"orient":"right","grid":true,"values":[70,75,80,85,90,95,100,105,110,115,120,125,130,135,140,145,150,155,160],"format":".2f","labelPadding":4,"labelBaseline":"middle","labelOverlap":false,"labelSeparation":0}}}},
{"data":{"name":"m"},"mark":{"type":"line","color":"#ff00ff","strokeWidth":1},"encoding":{"x":{"field":"d","type":"temporal"},"y":{"field":"v","type":"quantitative","axis":{"orient":"right","grid":true,"values":[70,75,80,85,90,95,100,105,110,115,120,125,130,135,140,145,150,155,160],"format":".2f","labelPadding":4,"labelBaseline":"middle","labelOverlap":false,"labelSeparation":0}}}},
{"data":{"values":[{}]},"mark":{"type":"text","align":"left","baseline":"top","dx":7,"dy":2,"fontSize":13,"font":"Liberation Sans","color":"#000000"},"encoding":{"x":{"datum":{"year":2014,"month":4,"date":4,"utc":true},"type":"temporal"},"y":{"datum":164.88,"type":"quantitative","axis":{"orient":"right","grid":true,"values":[70,75,80,85,90,95,100,105,110,115,120,125,130,135,140,145,150,155,160],"format":".2f","labelPadding":4,"labelBaseline":"middle","labelOverlap":false,"labelSeparation":0}},"text":{"value":"US:UTX"}}}
]
},
{
"spacing":0,
"vconcat":[
{
"width":771,"height":107,
"layer":[
{"data":{"name":"w"},"mark":{"type":"rule","strokeWidth":1.5},
"encoding":{
"x":{"field":"d","type":"temporal","scale":{"type":"utc","domain":[{"year":2014,"month":4,"date":4,"utc":true},{"year":2024,"month":4,"date":3,"utc":true}]},"axis":{"orient":"bottom","labels":false,"grid":true,"values":[{"year":2015,"month":1,"date":1,"utc":true},{"year":2016,"month":1,"date":1,"utc":true},{"year":2017,"month":1,"date":1,"utc":true},{"year":2018,"month":1,"date":1,"utc":true},{"year":2019,"month":1,"date":1,"utc":true},{"year":2020,"month":1,"date":1,"utc":true},{"year":2021,"month":1,"date":1,"utc":true},{"year":2022,"month":1,"date":1,"utc":true},{"year":2023,"month":1,"date":1,"utc":true},{"year":2024,"month":1,"date":1,"utc":true}]}},
"y":{"field":"v","type":"quantitative","scale":{"domain":[-0.74,23.95],"nice":false,"zero":false},"axis":{"orient":"right","grid":true,"values":[6,12,18],"labelExpr":"format(datum.value, '.1f') + ' M'","labelPadding":4,"labelOverlap":false}},
"y2":{"datum":-0.74},
"color":{"field":"c","type":"nominal","scale":{"domain":["r","g","n"],"range":["#ff0000","#4db848","#a8a8a8"]},"legend":null}}},
{"data":{"values":[{}]},"mark":{"type":"text","align":"left","baseline":"top","dx":7,"dy":5,"fontSize":13,"font":"Liberation Sans","color":"#000000"},"encoding":{"x":{"datum":{"year":2014,"month":4,"date":4,"utc":true},"type":"temporal"},"y":{"datum":23.95,"type":"quantitative"},"text":{"value":"Volume"}}}
]
},
{
"width":771,"height":30,
"layer":[
{"data":{"name":"yr"},"mark":{"type":"rule","color":"#000000","strokeWidth":1.5},"encoding":{"x":{"field":"d","type":"temporal","scale":{"type":"utc","domain":[{"year":2014,"month":4,"date":4,"utc":true},{"year":2024,"month":4,"date":3,"utc":true}]},"axis":null},"y":{"datum":0,"type":"quantitative","scale":{"domain":[0,30]},"axis":null},"y2":{"datum":30}}},
{"data":{"values":[{}]},"mark":{"type":"rule","color":"#000000","strokeWidth":1.5},"encoding":{"y":{"datum":14,"type":"quantitative"}}},
{"data":{"name":"lb"},"mark":{"type":"text","fontSize":13,"font":"Liberation Sans","baseline":"middle","color":"#000000"},"encoding":{"x":{"field":"d","type":"temporal"},"y":{"datum":7,"type":"quantitative"},"text":{"field":"t"}}}
]
}
]
}
]
}
